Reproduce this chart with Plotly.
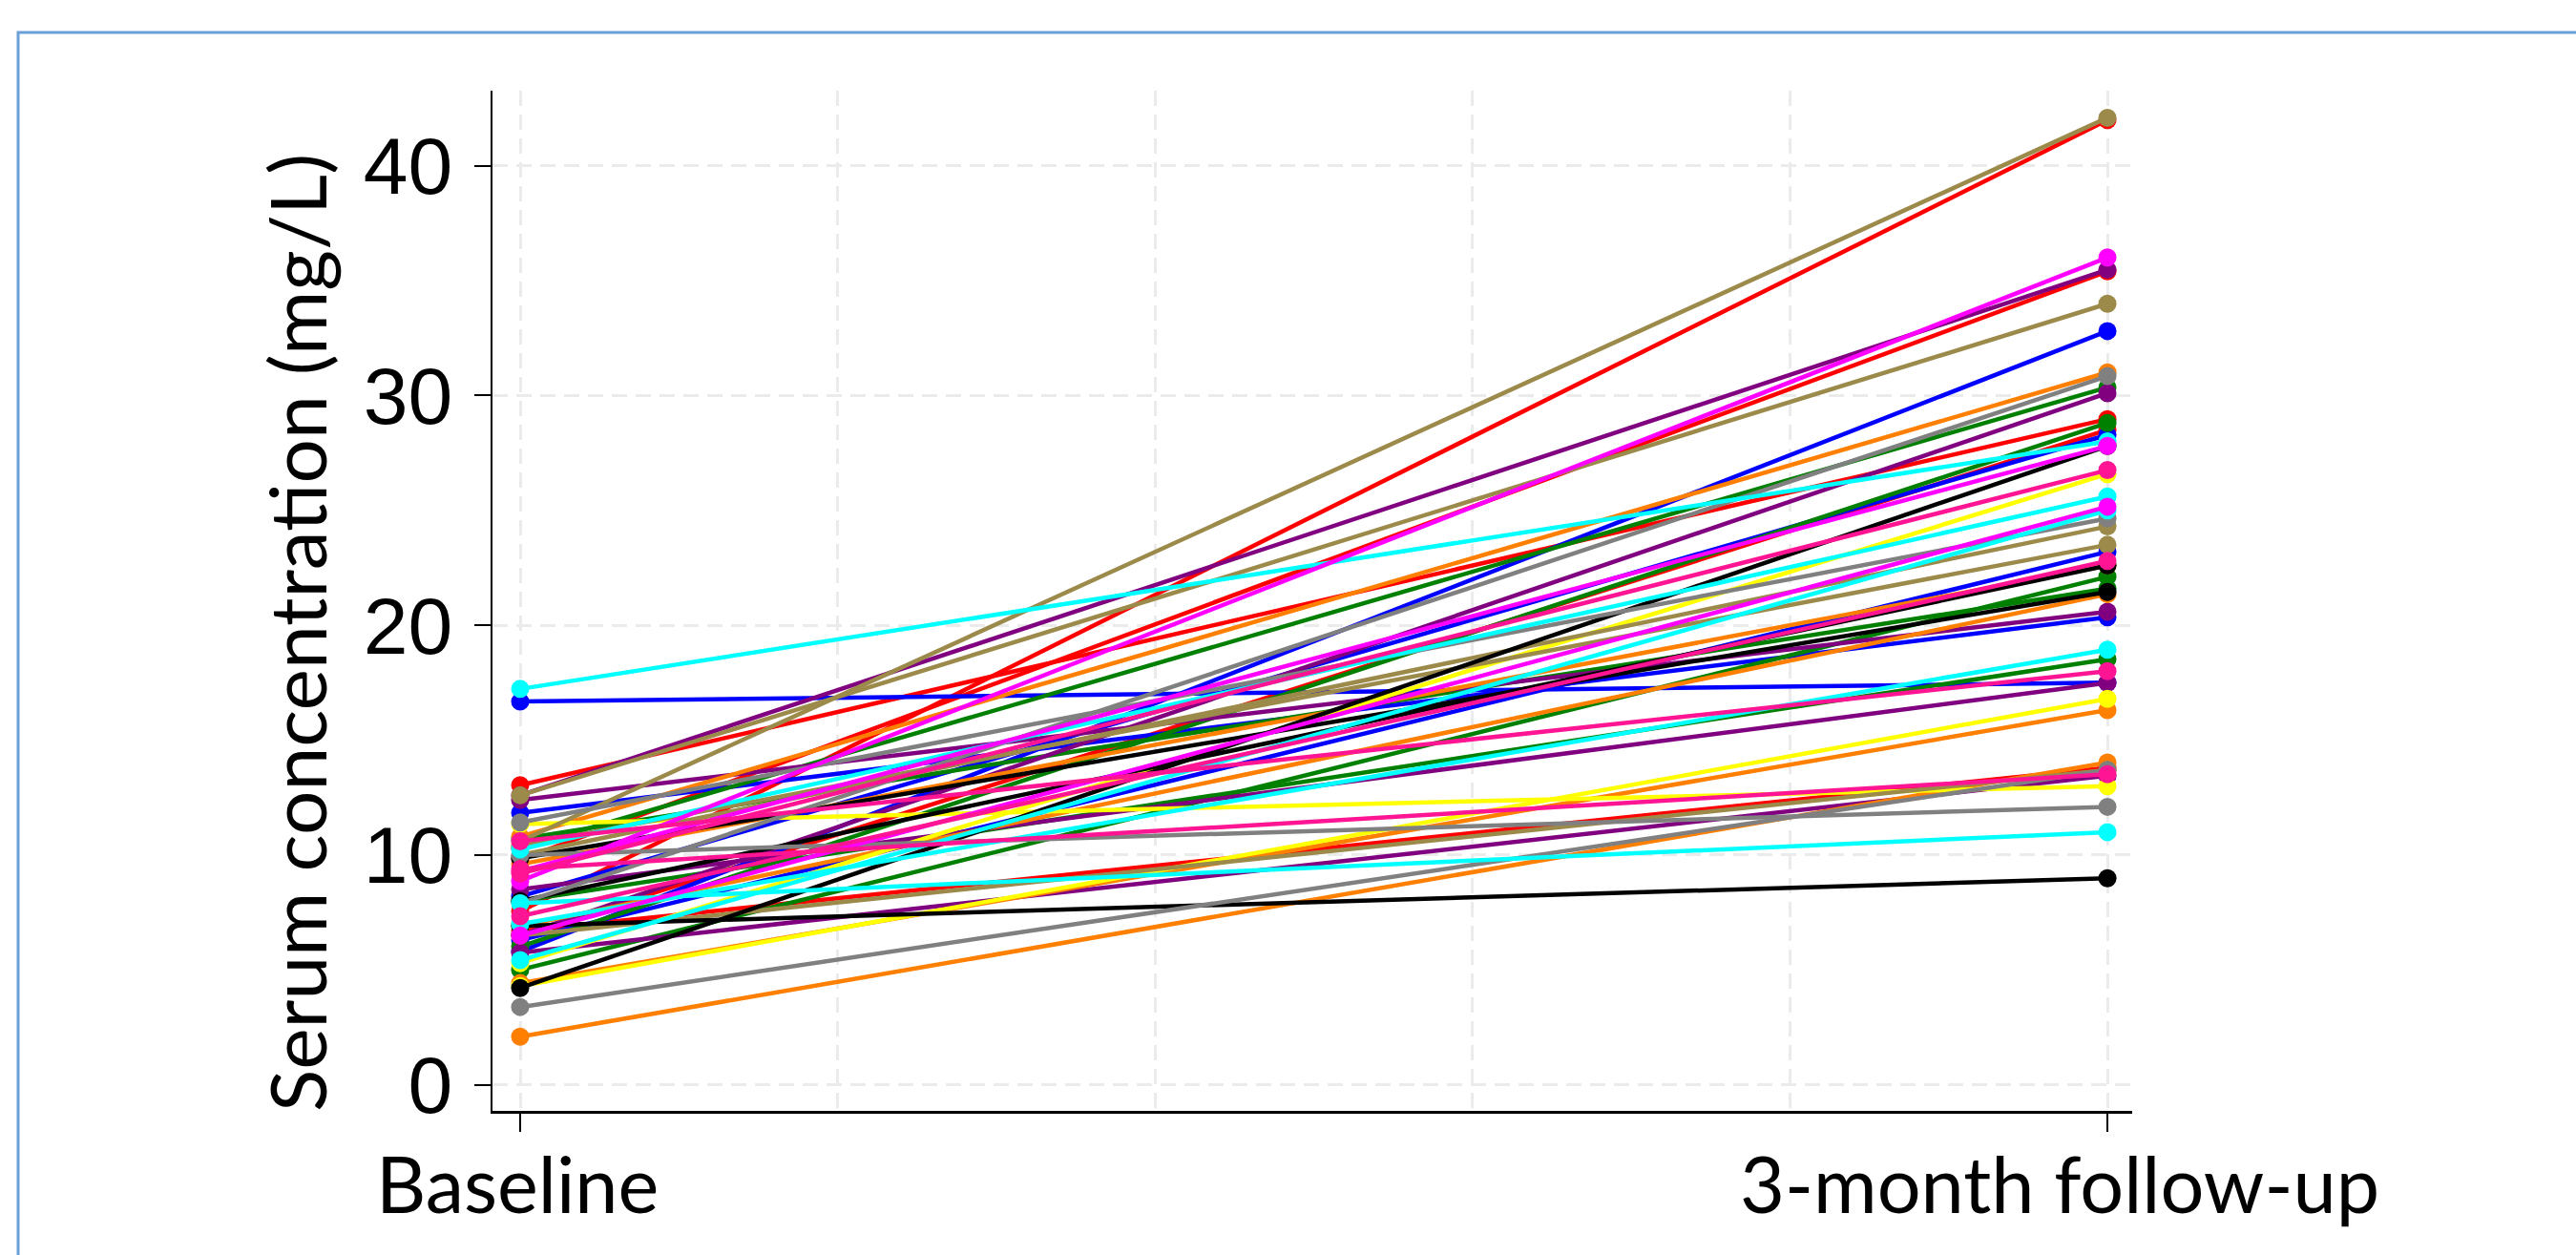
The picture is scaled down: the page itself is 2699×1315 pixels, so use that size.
import plotly.graph_objects as go

# Time points on the x axis
timepoints = [0, 1]
timepoint_labels = ["Baseline", "3-month follow-up"]
y_title = "Serum concentration (mg/L)"

# Serum concentration (mg/L) per subject, grouped by line colour
red_base = [7.55, 9.8, 13.04, 6.5, 6.7]
red_follow = [41.98, 35.4, 28.97, 28.5, 13.8]

blue_base = [16.68, 11.84, 5.8, 8.2, 6.3]
blue_follow = [17.5, 20.35, 32.8, 28.28, 23.2]

green_base = [10.3, 6.02, 5.01, 10.7, 8.0]
green_follow = [30.35, 28.8, 22.11, 21.6, 18.52]

purple_base = [12.6, 6.5, 12.4, 8.5, 5.75]
purple_follow = [35.47, 30.1, 20.59, 17.49, 13.45]

orange_base = [10.8, 9.6, 6.9, 4.43, 2.1]
orange_follow = [31.0, 22.6, 21.35, 16.31, 14.03]

yellow_base = [5.3, 4.3, 11.35]
yellow_follow = [26.58, 16.8, 13.0]

tan_base = [10.6, 12.6, 10.0, 10.4, 6.5]
tan_follow = [42.08, 33.99, 24.3, 23.5, 13.7]

black_base = [4.22, 6.92, 9.86, 8.0]
black_follow = [27.8, 8.99, 21.45, 22.6]

gray_base = [11.42, 7.9, 10.0, 3.39]
gray_follow = [24.65, 30.84, 12.1, 13.7]

cyan_base = [17.23, 10.25, 5.43, 7.0, 7.9]
cyan_follow = [28.0, 25.6, 25.0, 18.94, 11.0]

magenta_base = [8.87, 9.3, 6.5]
magenta_follow = [36.0, 27.8, 25.16]

pink_base = [9.2, 10.6, 9.4, 7.34]
pink_follow = [26.75, 18.0, 13.52, 22.8]

y_ticks = [0, 10, 20, 30, 40]

groups = [
    ("#FF0000", red_base, red_follow),
    ("#0000FF", blue_base, blue_follow),
    ("#008000", green_base, green_follow),
    ("#800080", purple_base, purple_follow),
    ("#FF7F00", orange_base, orange_follow),
    ("#FFFF00", yellow_base, yellow_follow),
    ("#9C8A4B", tan_base, tan_follow),
    ("#000000", black_base, black_follow),
    ("#808080", gray_base, gray_follow),
    ("#00FFFF", cyan_base, cyan_follow),
    ("#FF00FF", magenta_base, magenta_follow),
    ("#FF1493", pink_base, pink_follow),
]

fig = go.Figure()
for color, base, follow in groups:
    for b, f in zip(base, follow):
        fig.add_trace(go.Scatter(
            x=timepoints, y=[b, f], mode="lines+markers",
            line=dict(color=color, width=4.5),
            marker=dict(color=color, size=19),
            showlegend=False, hoverinfo="skip",
        ))

W, H = 2699, 1315
L, R, T, B = 516, 2234, 95, 1164
pw, ph = R - L, B - T

grid_color = "#EBEBEB"
grid_dash = "16px,9px"
label_font = dict(family="Lato, Open Sans, sans-serif", size=81, color="black")

fig.update_layout(
    width=W, height=H,
    margin=dict(l=L, r=W - R, t=T, b=H - B, pad=0, autoexpand=False),
    paper_bgcolor="white", plot_bgcolor="white",
    showlegend=False,
    xaxis=dict(
        range=[-0.01744, 1.0156],
        tickvals=timepoints, showticklabels=False,
        ticks="outside", ticklen=19, tickwidth=2, tickcolor="black",
        showline=True, linecolor="black", linewidth=3,
        showgrid=True, gridcolor=grid_color, gridwidth=3, griddash=grid_dash,
        minor=dict(dtick=0.2, tick0=0, showgrid=True, gridcolor=grid_color,
                   gridwidth=3, griddash=grid_dash, ticks=""),
        zeroline=False, automargin=False,
    ),
    yaxis=dict(
        range=[-1.13, 43.26],
        tickvals=y_ticks,
        tickfont=dict(family="Liberation Sans Narrow, Liberation Sans, Arial", size=84, color="black"),
        ticks="outside", ticklen=17, tickwidth=2, tickcolor="black",
        ticklabelstandoff=6,
        showline=True, linecolor="black", linewidth=2,
        showgrid=True, gridcolor=grid_color, gridwidth=3, griddash=grid_dash,
        zeroline=False, automargin=False,
    ),
)

# Time point labels under the x axis
label_shift = [-3, -50]
for tv, text, dx in zip(timepoints, timepoint_labels, label_shift):
    fig.add_annotation(
        x=tv, xref="x", y=(B - 1189) / ph, yref="paper",
        text=text, showarrow=False, xanchor="center", yanchor="top",
        xshift=dx, font=label_font,
    )

# Y axis title
fig.add_annotation(
    x=(310 - L) / pw, xref="paper", y=(B - 663) / ph, yref="paper",
    text=y_title, textangle=-90, showarrow=False,
    xanchor="center", yanchor="middle", font=dict(label_font, size=82),
)

# Light blue frame around the figure panel
fig.add_shape(
    type="rect", xref="paper", yref="paper",
    x0=(19 - L) / pw, x1=(W + 40 - L) / pw,
    y0=(B - (H + 40)) / ph, y1=(B - 34) / ph,
    line=dict(color="#6A9FD8", width=3), fillcolor="rgba(0,0,0,0)", layer="below",
)

fig.write_html("out.html")
